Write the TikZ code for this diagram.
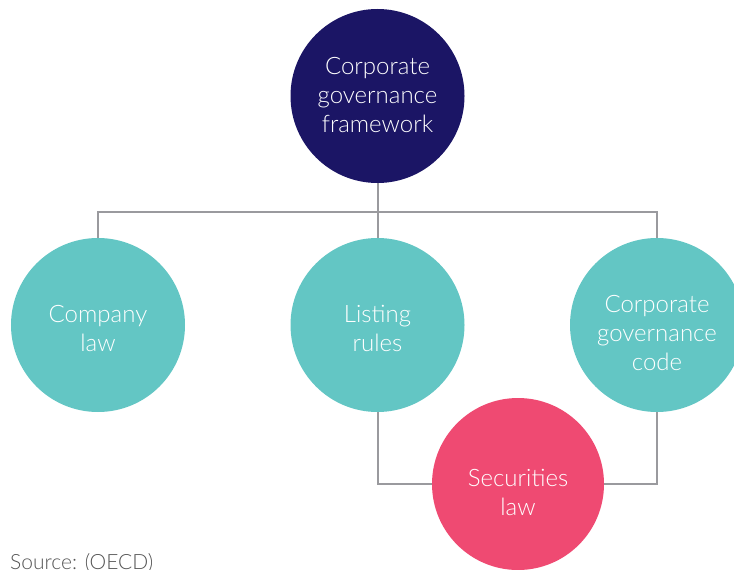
\documentclass[tikz,border=0pt]{standalone}
\usepackage{fontspec}
\setmainfont{Lato}[UprightFont=* Light]
\definecolor{navy}{HTML}{1B1565}
\definecolor{teal}{HTML}{63C6C4}
\definecolor{pinkc}{HTML}{EF4A72}
\definecolor{linec}{HTML}{9A9A9E}
\definecolor{srcc}{HTML}{555555}
\begin{document}
\begin{tikzpicture}[x=1bp,y=-1bp,
  circ/.style={circle, minimum size=174bp, inner sep=0pt},
  lbl/.style={text=white, align=center, inner sep=0pt,
    font=\fontsize{24bp}{29bp}\selectfont},
  conn/.style={draw=linec, line width=2bp}]
\useasboundingbox (0,0) rectangle (734,570);
\clip (0,0) rectangle (734,570);
\node[circ, fill=navy] (top) at (377.5,96) {};
\node[circ, fill=teal] (comp) at (98,325) {};
\node[circ, fill=teal] (list) at (377.5,325) {};
\node[circ, fill=teal] (code) at (657,325) {};
\coordinate (hb) at (377.5,212);
\draw[conn] (comp.north) |- (hb) -| (code.north);
\draw[conn] (top.south) -- (list.north);
\node[circ, fill=pinkc, minimum size=172bp] (sec) at (518,484) {};
\draw[conn] (list.south) |- (sec.west);
\draw[conn] (code.south) |- (sec.east);
\node[lbl] (topT) at ([yshift=1bp]top.center) {Corporate\\governance\\framework};
\node[lbl] (compT) at ([yshift=-3.5bp]comp.center) {Company\\law};
\node[lbl] (listT) at ([yshift=-3.5bp]list.center) {Listing\\rules};
\node[lbl] (codeT) at ([yshift=-8bp]code.center) {Corporate\\governance\\code};
\node[lbl] (secT) at ([yshift=-8bp]sec.center) {Securities\\law};
\node[anchor=base west, text=srcc, font=\fontsize{21bp}{23bp}\selectfont, inner sep=0pt] (src) at (10,569) {Source: (OECD)};
\end{tikzpicture}
\end{document}
